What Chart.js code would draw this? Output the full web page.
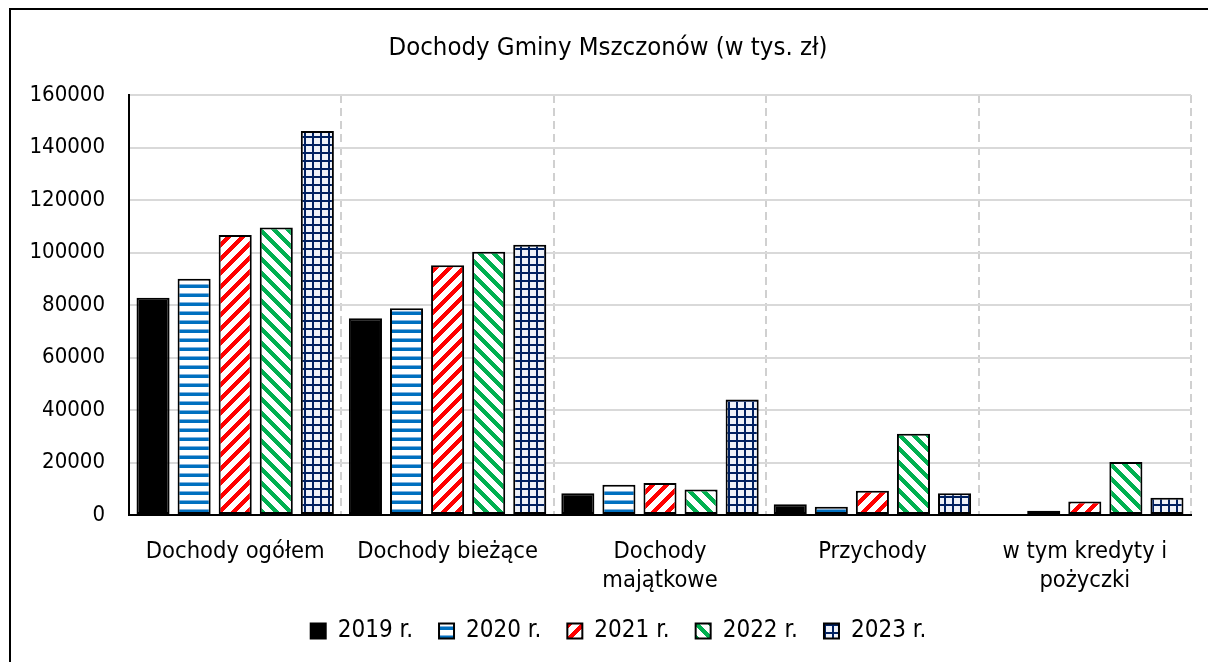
<!DOCTYPE html>
<html>
<head>
<meta charset="utf-8">
<script src="https://cdn.jsdelivr.net/npm/chart.js@4/dist/chart.umd.min.js"></script>
<style>
  html, body { margin: 0; padding: 0; background: #fff; }
  #wrap { position: relative; width: 1208px; height: 662px; }
  canvas { display: block; }
</style>
</head>
<body>
<div id="wrap"><canvas id="c" width="1208" height="662"></canvas></div>
<script>
// ---- data ----
const chartTitle = 'Dochody Gminy Mszczonów (w tys. zł)';
const categories = ["Dochody ogółem", "Dochody bieżące", ["Dochody", "majątkowe"], "Przychody", ["w tym kredyty i", "pożyczki"]];
const seriesNames = ["2019 r.", "2020 r.", "2021 r.", "2022 r.", "2023 r."];
const values2019 = [82800, 75000, 8300, 4100, 0];
const values2020 = [90000, 78800, 11500, 3100, 1600];
const values2021 = [106700, 95100, 12200, 9200, 5100];
const values2022 = [109500, 100300, 9700, 31000, 20200];
const values2023 = [146300, 103000, 44000, 8300, 6600];
const yTicks = [0, 20000, 40000, 60000, 80000, 100000, 120000, 140000, 160000];

const FONT = "'DejaVu Sans Condensed', 'DejaVu Sans', sans-serif";

// ---- patterns ----
function tile(w, h, painter) {
  const c = document.createElement('canvas');
  c.width = w; c.height = h;
  const g = c.getContext('2d');
  g.fillStyle = '#ffffff';
  g.fillRect(0, 0, w, h);
  painter(g, w, h);
  return document.getElementById('c').getContext('2d').createPattern(c, 'repeat');
}
const patSolid = '#000000';
const patHoriz = tile(9, 9, (g) => {
  g.fillStyle = '#7fb2de'; g.fillRect(0, 5, 9, 1);
  g.fillStyle = '#0070C0'; g.fillRect(0, 6, 9, 3);
});
function diag(color, dir, S, t) {
  return tile(S, S, (g) => {
    g.fillStyle = color;
    for (let y = 0; y < S; y++) for (let x = 0; x < S; x++) {
      const v = dir > 0 ? (x + y) % S : ((x - y) % S + S) % S;
      if (v < t) g.fillRect(x, y, 1, 1);
    }
  });
}
const patRed = diag('#FF0000', 1, 14, 6);
const patGreen = diag('#00B050', -1, 14, 6);
const patGrid = tile(8, 8, (g) => {
  g.fillStyle = '#eef1f8'; g.fillRect(0, 0, 8, 8);
  g.fillStyle = '#002060';
  g.fillRect(0, 0, 8, 2);
  g.fillRect(0, 0, 2, 8);
});
const fills = [patSolid, patHoriz, patRed, patGreen, patGrid];
const allValues = [values2019, values2020, values2021, values2022, values2023];

const frameAndTitle = {
  id: 'frameAndTitle',
  beforeDraw(chart) {
    const ctx = chart.ctx;
    ctx.save();
    ctx.strokeStyle = '#000';
    ctx.lineWidth = 2;
    ctx.strokeRect(10, 9, 1200, 700);
    ctx.restore();
  },
  afterDraw(chart) {
    const ctx = chart.ctx;
    ctx.save();
    ctx.fillStyle = '#000';
    ctx.font = "25.5px " + FONT;
    ctx.textAlign = 'center';
    ctx.textBaseline = 'middle';
    ctx.fillText(chartTitle, 608, 48);
    ctx.restore();
  }
};

new Chart(document.getElementById('c'), {
  type: 'bar',
  data: {
    labels: categories,
    datasets: seriesNames.map((n, i) => ({
      label: n,
      data: allValues[i],
      backgroundColor: fills[i],
      borderColor: '#000000',
      borderWidth: (ctx) => (ctx.raw === 0 ? 0 : 2),
      borderSkipped: false,
      categoryPercentage: 0.967,
      barPercentage: 0.805
    }))
  },
  options: {
    responsive: false,
    animation: false,
    devicePixelRatio: 1,
    layout: { padding: { left: 29, right: 0, top: 95, bottom: 9 } },
    plugins: {
      title: { display: false },
      legend: {
        position: 'bottom',
        labels: {
          color: '#000',
          font: { family: FONT, size: 24 },
          boxWidth: 15,
          boxHeight: 15,
          padding: 26,
          generateLabels(chart) {
            const items = Chart.defaults.plugins.legend.labels.generateLabels(chart);
            items.forEach(it => { it.lineWidth = 2; });
            return items;
          }
        }
      },
      tooltip: { enabled: false }
    },
    scales: {
      x: {
        grid: { color: '#d0d0d0', lineWidth: 2, drawTicks: false },
        border: { color: '#000', width: 2, dash: [8, 5], z: 1 },
        ticks: {
          color: '#000', autoSkip: false, maxRotation: 0, padding: 22,
          font: { family: FONT, size: 23.5, lineHeight: '29px' }
        },
        afterFit(s) { s.height = 78; }
      },
      y: {
        min: 0, max: 160000,
        afterBuildTicks(s) { s.ticks = yTicks.map(v => ({ value: v })); },
        grid: { color: '#d9d9d9', lineWidth: 2, drawTicks: false },
        border: { color: '#000', width: 2, z: 1 },
        ticks: {
          color: '#000', padding: 24,
          font: { family: FONT, size: 22 },
          callback: (v) => String(v)
        },
        afterFit(s) { s.width = 100; }
      },
      yRight: {
        position: 'right',
        display: true,
        grid: { display: false, drawTicks: false },
        border: { display: false },
        ticks: { display: false },
        afterFit(s) { s.width = 17; }
      }
    }
  },
  plugins: [frameAndTitle]
});
</script>
</body>
</html>
